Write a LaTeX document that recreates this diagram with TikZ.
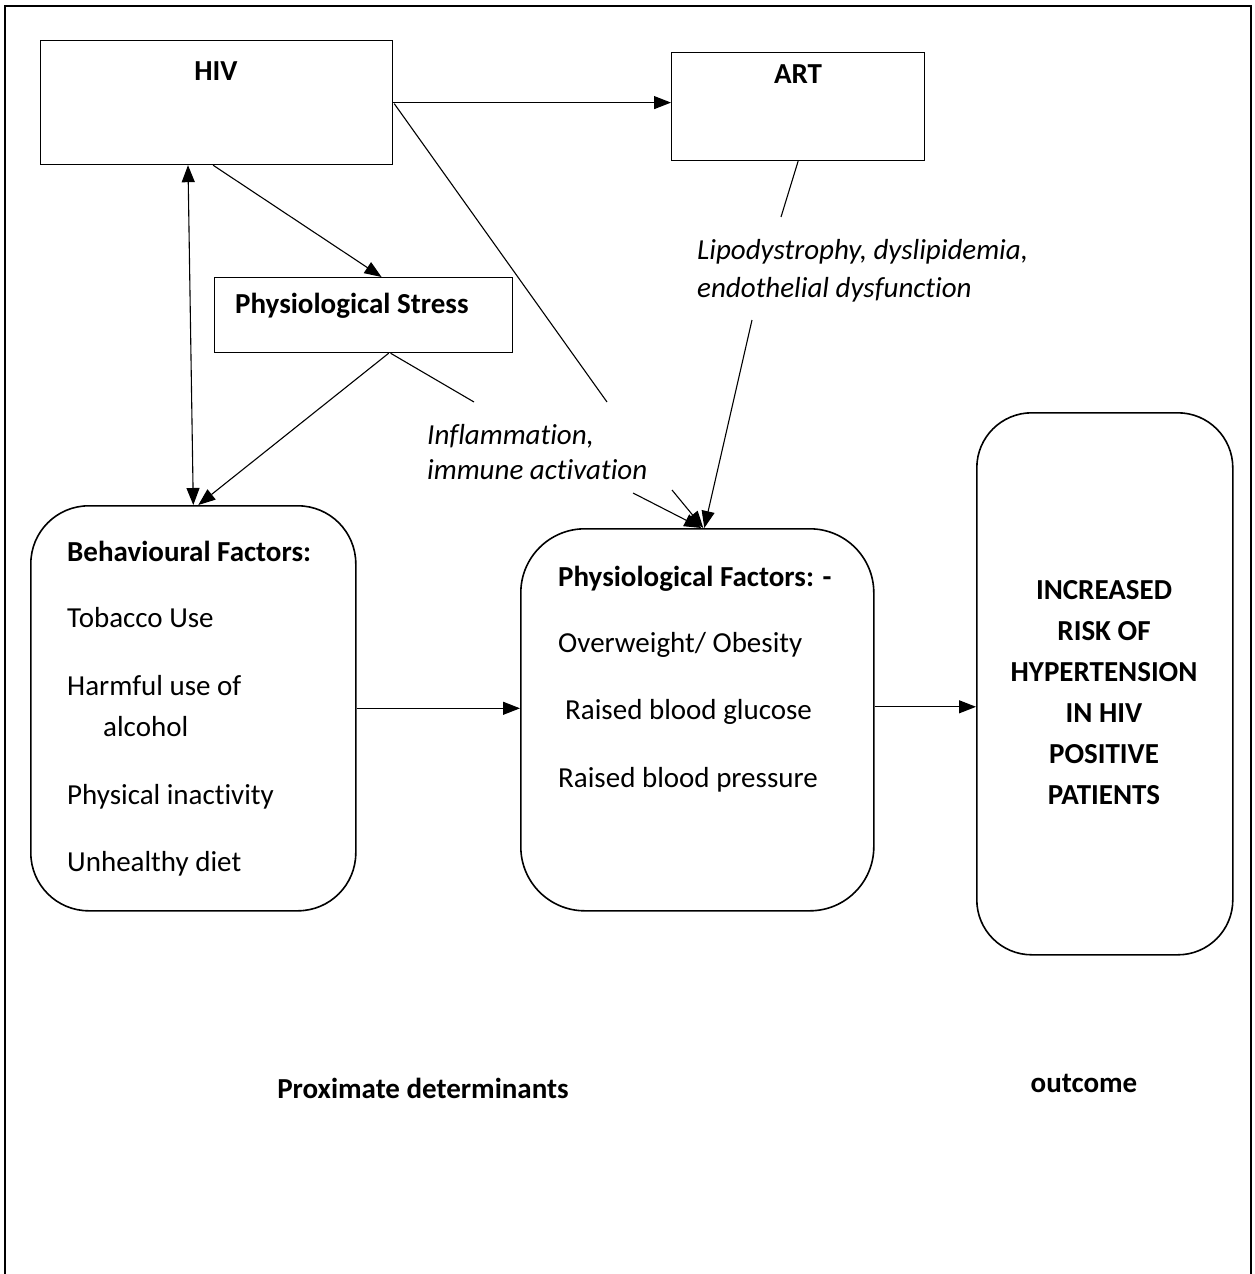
\documentclass[tikz,border=0pt]{standalone}
\usepackage{fontspec}
\setmainfont{Carlito}[Ligatures=NoCommon]
\usetikzlibrary{arrows.meta,calc}
\tikzset{
  box/.style={draw, line width=1.2pt, inner sep=0pt, anchor=north west},
  rbox/.style={draw, line width=1.6pt, inner sep=0pt, anchor=north west, rounded corners=58pt},
  arr/.style={-{Triangle[length=17pt,width=13pt]}, line width=1.1pt},
  dbl/.style={{Triangle[length=17pt,width=13pt]}-{Triangle[length=17pt,width=13pt]}, line width=1.1pt},
  ln/.style={line width=1.1pt},
  txt/.style={font=\fontsize{29}{35}\selectfont, inner sep=0pt, anchor=base west},
  btxt/.style={txt, font=\fontsize{29}{35}\selectfont\bfseries},
  itxt/.style={txt, font=\fontsize{29}{35}\selectfont\itshape},
  ctxt/.style={font=\fontsize{29}{35}\selectfont\bfseries, inner sep=0pt, anchor=base}
}
\begin{document}
\begin{tikzpicture}[x=1pt,y=-1pt]
\useasboundingbox (0,0) rectangle (1255,1274);
% outer frame (open at bottom)
\draw[line width=2.4pt] (5,1274) -- (5,6) -- (1251,6) -- (1251,1274);

% boxes
\node[box, minimum width=352pt, minimum height=124pt] (HIV) at (40,40) {};
\node[box, minimum width=253pt, minimum height=108pt] (ART) at (671,52) {};
\node[box, minimum width=298pt, minimum height=75pt] (Stress) at (214,277) {};
\node[rbox, minimum width=325pt, minimum height=405pt] (Behav) at (30,505) {};
\node[rbox, minimum width=353pt, minimum height=382pt, rounded corners=64pt] (PhysF) at (520,528) {};
\node[rbox, minimum width=256pt, minimum height=542pt, rounded corners=55pt] (Out) at (976,412) {};

% box texts
\node[ctxt] (tHIV) at (216,80) {HIV};
\node[ctxt] (tART) at (798,83) {ART};
\node[btxt] (tStress) at (235,313) {Physiological Stress};

\node[btxt] (b0) at (67,561) {Behavioural Factors:};
\node[txt] (b1) at (67,627) {Tobacco Use};
\node[txt] (b2) at (67,695) {Harmful use of};
\node[txt] (b3) at (103,736) {alcohol};
\node[txt] (b4) at (67,804) {Physical inactivity};
\node[txt] (b5) at (67,871) {Unhealthy diet};

\node[btxt] (p0) at (558,586) {Physiological Factors: -};
\node[txt] (p1) at (558,652) {Overweight/ Obesity};
\node[txt] (p2) at (565,719) {Raised blood glucose};
\node[txt] (p3) at (558,787) {Raised blood pressure};

\node[ctxt] (o1) at (1104,599) {INCREASED};
\node[ctxt] (o2) at (1104,640) {RISK OF};
\node[ctxt] (o3) at (1104,681) {HYPERTENSION};
\node[ctxt] (o4) at (1104,722) {IN HIV};
\node[ctxt] (o5) at (1104,763) {POSITIVE};
\node[ctxt] (o6) at (1104,804) {PATIENTS};

% mediator labels
\node[itxt] (l1) at (697,259) {Lipodystrophy, dyslipidemia,};
\node[itxt] (l2) at (697,297) {endothelial dysfunction};
\node[itxt] (i1) at (427,444) {Inflammation,};
\node[itxt] (i2) at (427,479) {immune activation};

% bottom labels
\node[ctxt] (prox) at (423,1098) {Proximate determinants};
\node[ctxt] (outc) at (1084,1092) {outcome};

% connector break points
\coordinate (s1) at (474,402);
\coordinate (s2) at (633,493);
\coordinate (h1) at (607,402);
\coordinate (h2) at (672,490);
\coordinate (a1) at (781,217);
\coordinate (a2) at (752,320);
\coordinate (pe) at ($(PhysF.east)+(0,-13)$);

% connectors
\draw[arr] (HIV.east) -- (HIV.east -| ART.west);
\draw[arr] ($(HIV.south west)!0.49!(HIV.south east)$) -- ($(Stress.north west)!0.56!(Stress.north east)$);
\draw[dbl] ($(HIV.south west)+(148,0)$) -- (Behav.north);
\draw[arr] ($(Stress.south west)!0.584!(Stress.south east)$) -- ($(Behav.north)+(5,0)$);
\draw[ln] ($(Stress.south west)!0.59!(Stress.south east)$) -- (s1);
\draw[arr] (s2) -- ($(PhysF.north)+(4,0)$);
\draw[ln] ($(HIV.east)+(1,1)$) -- (h1);
\draw[arr] (h2) -- ($(PhysF.north)+(6,0)$);
\draw[ln] (ART.south) -- (a1);
\draw[arr] (a2) -- ($(PhysF.north)+(7,0)$);
\draw[arr] (Behav.east) -- (Behav.east -| PhysF.west);
\draw[arr] (pe) -- (pe -| Out.west);
\end{tikzpicture}
\end{document}
